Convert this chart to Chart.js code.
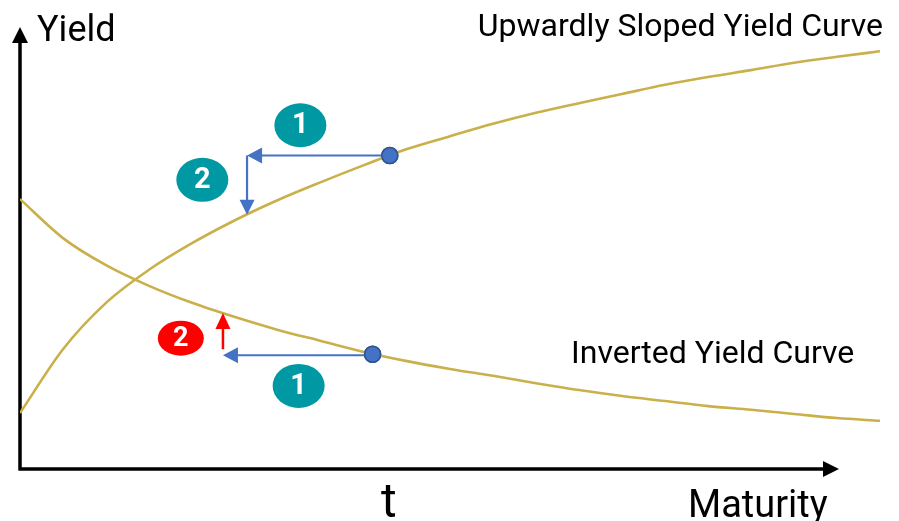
<!DOCTYPE html>
<html>
<head>
<meta charset="utf-8">
<script src="https://cdn.jsdelivr.net/npm/chart.js@4"></script>
<style>
  html, body { margin: 0; padding: 0; background: #fff; }
  #wrap { width: 899px; height: 521px; position: relative; }
</style>
</head>
<body>
<div id="wrap"><canvas id="c" width="899" height="521"></canvas></div>
<script>
// ---- Data (conceptual units: maturity 0..10, yield 0..10) ----
const maturity = [0, 0.5, 1, 1.5, 2, 2.5, 3, 3.5, 4, 4.5, 5, 5.5, 6, 6.5, 7, 7.5, 8, 8.5, 9, 9.5, 10];
const yieldUp  = [1.22, 2.61, 3.62, 4.34, 4.92, 5.42, 5.86, 6.25, 6.62, 6.97, 7.25, 7.52, 7.76, 7.97, 8.17, 8.37, 8.54, 8.69, 8.85, 8.98, 9.10];
const yieldInv = [5.88, 5.03, 4.44, 3.99, 3.62, 3.31, 3.03, 2.79, 2.55, 2.35, 2.18, 2.03, 1.87, 1.72, 1.59, 1.48, 1.37, 1.29, 1.20, 1.11, 1.05];
// marked points on each curve (maturity t)
const markMaturity = [4.30, 4.10];
const markYield    = [6.83, 2.50];
// shift targets: shorter maturity after the move and resulting yield
const shiftMaturity = [2.64, 2.36];
const shiftYield    = [5.54, 3.40];
const curveNames = ['Upwardly Sloped Yield Curve', 'Inverted Yield Curve'];
const axisNames = ['Yield', 'Maturity', 't'];
// numbered step badges [maturity, yield, label, colour]
const badges = [
  [3.26, 7.49, '1', 'teal'],
  [2.12, 6.30, '2', 'teal'],
  [1.87, 2.85, '2', 'red'],
  [3.24, 1.81, '1', 'teal']
];

const GOLD = '#C9B04A';
const BLUE = '#4472C4';
const TEAL = '#0099A3';
const RED  = '#FF0000';

function pts(xs, ys) { return xs.map((x, i) => ({ x: x, y: ys[i] })); }

function arrowHead(ctx, x1, y1, x2, y2, len, half, color) {
  const a = Math.atan2(y2 - y1, x2 - x1);
  ctx.save();
  ctx.fillStyle = color;
  ctx.beginPath();
  ctx.moveTo(x2, y2);
  ctx.lineTo(x2 - len * Math.cos(a) + half * Math.sin(a), y2 - len * Math.sin(a) - half * Math.cos(a));
  ctx.lineTo(x2 - len * Math.cos(a) - half * Math.sin(a), y2 - len * Math.sin(a) + half * Math.cos(a));
  ctx.closePath();
  ctx.fill();
  ctx.restore();
}
function arrow(ctx, x1, y1, x2, y2, color, width, len, half) {
  const a = Math.atan2(y2 - y1, x2 - x1);
  ctx.save();
  ctx.strokeStyle = color;
  ctx.lineWidth = width;
  ctx.beginPath();
  ctx.moveTo(x1, y1);
  ctx.lineTo(x2 - (len - 2) * Math.cos(a), y2 - (len - 2) * Math.sin(a));
  ctx.stroke();
  ctx.restore();
  arrowHead(ctx, x1, y1, x2, y2, len, half, color);
}

const decor = {
  id: 'decor',
  beforeDatasetsDraw(chart) {
    const ctx = chart.ctx, xs = chart.scales.x, ys = chart.scales.y;
    const x0 = xs.getPixelForValue(0), y0 = ys.getPixelForValue(0);
    ctx.save();
    ctx.strokeStyle = '#000';
    ctx.lineWidth = 3.5;
    ctx.beginPath();
    ctx.moveTo(x0, y0 + 1.5);
    ctx.lineTo(x0, 40);
    ctx.moveTo(x0 - 1.5, y0);
    ctx.lineTo(826, y0);
    ctx.stroke();
    ctx.restore();
    arrowHead(ctx, x0, y0, x0, 27, 16, 8, '#000');
    arrowHead(ctx, x0, y0, 839, y0, 16, 8, '#000');
  },
  afterDatasetsDraw(chart) {
    const ctx = chart.ctx, xs = chart.scales.x, ys = chart.scales.y;
    const px = v => xs.getPixelForValue(v), py = v => ys.getPixelForValue(v);
    const ux = px(markMaturity[0]), uy = py(markYield[0]);
    const sx0 = px(shiftMaturity[0]);
    arrow(ctx, ux - 6, uy, sx0, uy, BLUE, 2.2, 15, 8);
    arrow(ctx, sx0, uy, sx0, py(shiftYield[0]), BLUE, 2.2, 15, 7.5);
    const ix = px(markMaturity[1]), iy = py(markYield[1]);
    const sx1 = px(shiftMaturity[1]);
    arrow(ctx, ix - 6, iy + 1, sx1, iy + 1, BLUE, 2.2, 15, 8);
    arrow(ctx, sx1, iy - 5, sx1, py(shiftYield[1]), RED, 2.5, 16, 7.5);
    chart.getDatasetMeta(2).data.forEach(el => el.draw(ctx));
    badges.forEach(b => {
      const cx = px(b[0]), cy = py(b[1]);
      const isRed = b[3] === 'red';
      const rx = isRed ? 23 : 26, ry = isRed ? 17.5 : 22;
      ctx.save();
      ctx.fillStyle = isRed ? RED : TEAL;
      ctx.beginPath();
      ctx.ellipse(cx, cy, rx, ry, 0, 0, Math.PI * 2);
      ctx.fill();
      ctx.fillStyle = '#fff';
      ctx.font = 'bold ' + (isRed ? 27 : 29) + 'px Roboto';
      ctx.textAlign = 'center';
      ctx.textBaseline = 'middle';
      ctx.fillText(b[2], cx, cy + 1);
      ctx.restore();
    });
    ctx.save();
    ctx.fillStyle = '#000';
    ctx.textBaseline = 'alphabetic';
    ctx.font = '36px Roboto';
    ctx.textAlign = 'left';
    ctx.fillText(axisNames[0], 37, 41);
    ctx.font = '32px Roboto';
    ctx.textAlign = 'right';
    ctx.fillText(curveNames[0], 883, 36);
    ctx.textAlign = 'left';
    ctx.fillText(curveNames[1], 571, 363);
    ctx.font = '38px Roboto';
    ctx.fillText(axisNames[1], 688, 517);
    ctx.font = '48px Roboto';
    ctx.textAlign = 'center';
    ctx.fillText(axisNames[2], px(markMaturity[0]) - 1, 517);
    ctx.restore();
  }
};

new Chart(document.getElementById('c'), {
  type: 'scatter',
  data: {
    datasets: [
      { label: curveNames[0], data: pts(maturity, yieldUp), showLine: true,
        borderColor: GOLD, borderWidth: 2.6, pointRadius: 0, cubicInterpolationMode: 'monotone', fill: false },
      { label: curveNames[1], data: pts(maturity, yieldInv), showLine: true,
        borderColor: GOLD, borderWidth: 2.6, pointRadius: 0, cubicInterpolationMode: 'monotone', fill: false },
      { label: 't', data: pts(markMaturity, markYield), showLine: false,
        pointRadius: 8, pointBackgroundColor: BLUE, pointBorderColor: '#2F528F', pointBorderWidth: 1.5 }
    ]
  },
  options: {
    responsive: false,
    animation: false,
    layout: { padding: { left: 20, right: 19, top: 10, bottom: 52 } },
    plugins: { legend: { display: false }, tooltip: { enabled: false } },
    scales: {
      x: { type: 'linear', min: 0, max: 10, display: false },
      y: { type: 'linear', min: 0, max: 10, display: false }
    }
  },
  plugins: [decor]
});
</script>
</body>
</html>
